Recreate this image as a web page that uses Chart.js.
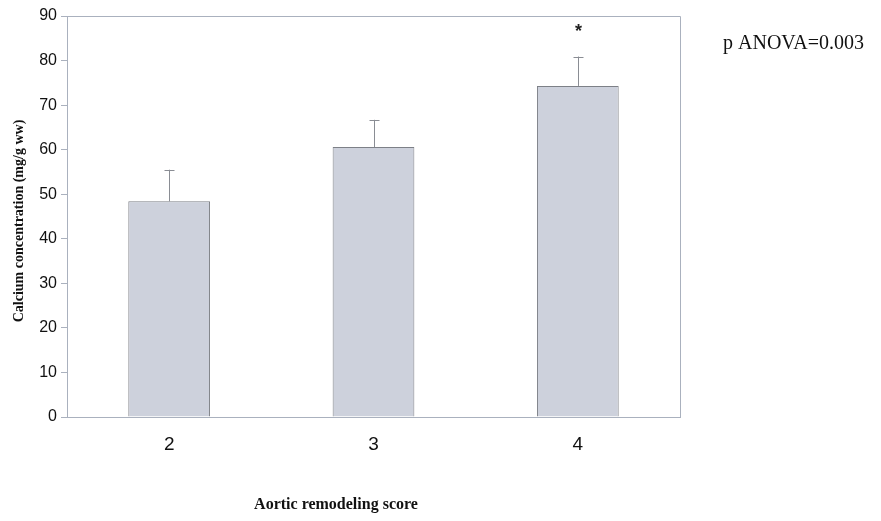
<!DOCTYPE html>
<html>
<head>
<meta charset="utf-8">
<script src="https://cdn.jsdelivr.net/npm/chart.js@4"></script>
<style>
  html, body { margin: 0; padding: 0; background: #fff; }
  #wrap { width: 881px; height: 521px; }
</style>
</head>
<body>
<div id="wrap"><canvas id="myChart"></canvas></div>
<script>
// data
const scores = ['2', '3', '4']
const calcium = [48.4, 60.6, 74.3]
const calciumErr = [7.1, 6.1, 6.6]
const marks = ['', '', '*']
const yTicks = [0, 10, 20, 30, 40, 50, 60, 70, 80, 90]

const axisColor = '#aab1be'

// upward-only error bars + significance star
const errorBars = {
  id: 'errorBars',
  afterDatasetsDraw(chart) {
    const ctx = chart.ctx
    const y = chart.scales.y
    const meta = chart.getDatasetMeta(0)
    ctx.save()
    ctx.strokeStyle = '#8a8d94'
    ctx.lineWidth = 1
    meta.data.forEach((bar, i) => {
      const x = Math.round(bar.x) + 0.5
      const top = y.getPixelForValue(calcium[i] + calciumErr[i])
      ctx.beginPath()
      ctx.moveTo(x, bar.y)
      ctx.lineTo(x, top)
      ctx.moveTo(x - 5, Math.round(top) + 0.5)
      ctx.lineTo(x + 5, Math.round(top) + 0.5)
      ctx.stroke()
      if (marks[i]) {
        ctx.fillStyle = '#222'
        ctx.font = 'bold 18px "Liberation Sans", Arial, sans-serif'
        ctx.textAlign = 'center'
        ctx.textBaseline = 'middle'
        ctx.fillText(marks[i], x, y.getPixelForValue(calcium[i] + calciumErr[i] + 5.6))
      }
    })
    ctx.restore()
  }
}

// frame on top/right plus the loose text labels
const extras = {
  id: 'extras',
  afterDraw(chart) {
    const ctx = chart.ctx
    const a = chart.chartArea
    ctx.save()
    ctx.strokeStyle = axisColor
    ctx.lineWidth = 1
    ctx.beginPath()
    ctx.moveTo(Math.round(a.left) + 0.5, Math.round(a.top) + 0.5)
    ctx.lineTo(Math.round(a.right) + 0.5, Math.round(a.top) + 0.5)
    ctx.lineTo(Math.round(a.right) + 0.5, Math.round(a.bottom) + 0.5)
    ctx.stroke()

    ctx.fillStyle = '#111'
    ctx.font = '20px "Liberation Serif", "Times New Roman", serif'
    ctx.textAlign = 'left'
    ctx.textBaseline = 'alphabetic'
    ctx.fillText('p ANOVA=0.003', 723, 49)

    ctx.font = 'bold 16px "Liberation Serif", "Times New Roman", serif'
    ctx.textAlign = 'center'
    ctx.textBaseline = 'middle'
    ctx.fillText('Aortic remodeling score', 336, 505)

    ctx.font = 'bold 14px "Liberation Serif", "Times New Roman", serif'
    ctx.translate(19, 221)
    ctx.rotate(-Math.PI / 2)
    ctx.fillText('Calcium concentration (mg/g ww)', 0, 0)
    ctx.restore()
  }
}

const chart = document.getElementById('myChart')

new Chart(chart, {
  type: 'bar',
  data: {
    labels: scores,
    datasets: [{
      data: calcium,
      backgroundColor: '#cdd1dc',
      borderColor: '#7d8087',
      borderWidth: 1,
      categoryPercentage: 1,
      barPercentage: 0.4
    }]
  },
  options: {
    responsive: true,
    maintainAspectRatio: false,
    animation: false,
    layout: { padding: { top: 16, right: 201, left: 0, bottom: 0 } },
    plugins: { legend: { display: false }, tooltip: { enabled: false } },
    scales: {
      x: {
        grid: { display: false },
        border: { color: axisColor },
        ticks: {
          color: '#111',
          padding: 8,
          font: { family: '"Liberation Sans", Arial, sans-serif', size: 19 }
        },
        afterFit: (s) => { s.height = 104 }
      },
      y: {
        min: 0,
        max: 90,
        afterBuildTicks: (s) => { s.ticks = yTicks.map(v => ({ value: v })) },
        grid: { drawOnChartArea: false, tickLength: 6, color: axisColor },
        border: { color: axisColor },
        ticks: {
          color: '#111',
          padding: 4,
          font: { family: '"Liberation Sans", Arial, sans-serif', size: 16 }
        },
        afterFit: (s) => { s.width = 67 }
      }
    }
  },
  plugins: [errorBars, extras]
})
</script>
</body>
</html>
